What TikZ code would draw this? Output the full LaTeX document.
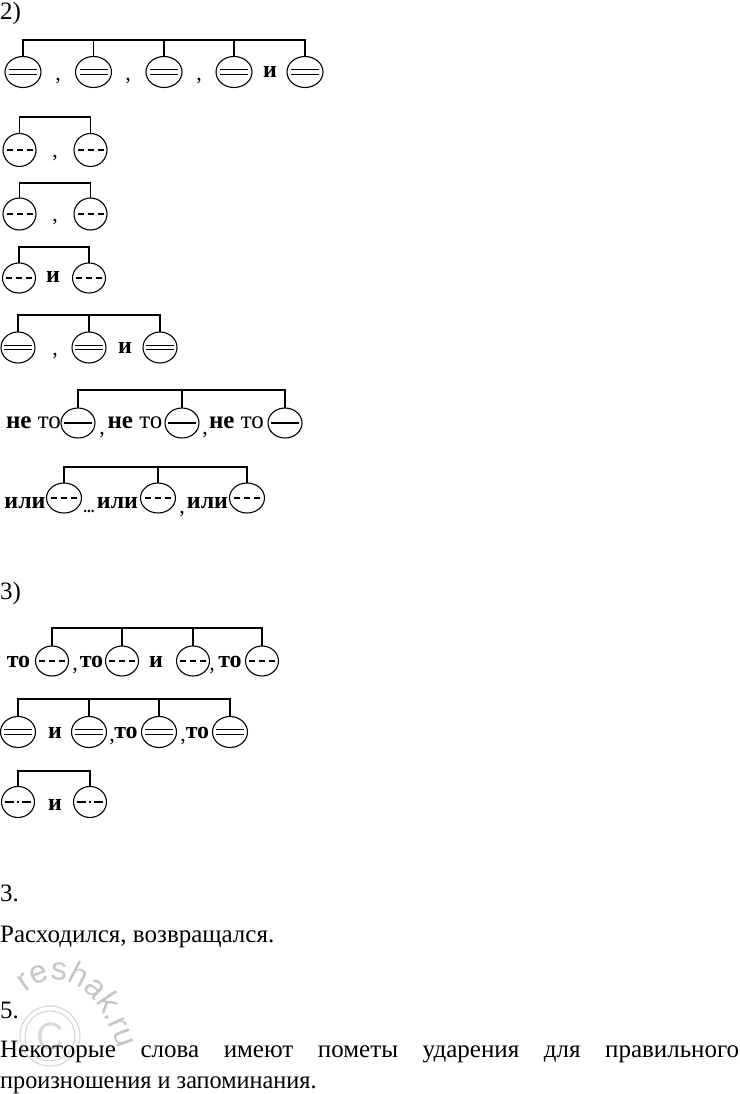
\documentclass[tikz,border=0pt]{standalone}
\usepackage{fontspec}
\setmainfont{Liberation Serif}
\newfontfamily\wmfont{Liberation Sans}
\usetikzlibrary{shapes.geometric,decorations.text}
\tikzset{
  ln/.style={line width=1.1pt},
  el/.style={draw, ellipse, line width=1.1pt, minimum width=#1, inner sep=0pt, outer sep=0pt},
  el/.default=34pt,
  dbl/.style={path picture={\draw[line width=1.2pt]
     ([xshift=-14pt,yshift=2.2pt]path picture bounding box.center) -- ([xshift=14pt,yshift=2.2pt]path picture bounding box.center)
     ([xshift=-14pt,yshift=-2.2pt]path picture bounding box.center) -- ([xshift=14pt,yshift=-2.2pt]path picture bounding box.center);}},
  dsh/.style={path picture={\draw[line width=1.2pt, dash pattern=on 6pt off 4pt]
     ([xshift=-13pt]path picture bounding box.center) -- ([xshift=13pt]path picture bounding box.center);}},
  sgl/.style={path picture={\draw[line width=1.2pt]
     ([xshift=-14pt]path picture bounding box.center) -- ([xshift=14pt]path picture bounding box.center);}},
  ddt/.style={path picture={\draw[line width=1.2pt, dash pattern=on 9pt off 3pt on 2pt off 3pt]
     ([xshift=-13pt]path picture bounding box.center) -- ([xshift=13pt]path picture bounding box.center);}},
  lbl/.style={font=\fontsize{24}{24}\selectfont\bfseries, inner sep=0pt, anchor=base},
  cmma/.style={font=\fontsize{22}{22}\selectfont, inner sep=0pt, anchor=base},
  txt/.style={font=\fontsize{25}{25}\selectfont, inner sep=0pt, anchor=base west},
}
\begin{document}
\begin{tikzpicture}[x=1pt,y=-1pt]
\useasboundingbox (0,0) rectangle (739,1094);
\fill[white] (0,0) rectangle (739,1094);

% ---------- 2)
\node[txt] (h2) at (0,20) {2)};

% Row 1
\coordinate (r1) at (0,40);
\foreach \i/\x in {1/23,2/93.5,3/164,4/234,5/305}
  \node[el=36pt, minimum height=31pt, dbl] (a\i) at (\x,72) {};
\draw[ln] (a1.north) -- (a1.north |- r1) -- (a5.north |- r1) -- (a5.north);
\foreach \i in {2,3,4} \draw[ln] (a\i.north) -- (a\i.north |- r1);
\node[cmma] (a1c) at (58,81) {,};
\node[cmma] (a2c) at (128,81) {,};
\node[cmma] (a3c) at (199,81) {,};
\node[lbl] (a4i) at (270,78) {и};

% Row 2
\coordinate (r2) at (0,117);
\node[el=33pt, minimum height=33pt, dsh] (b1) at (19.5,150) {};
\node[el=33pt, minimum height=33pt, dsh] (b2) at (90.5,150) {};
\draw[ln] (b1.north) -- (b1.north |- r2) -- (b2.north |- r2) -- (b2.north);
\node[cmma] (b1c) at (55,158) {,};

% Row 3
\coordinate (r3) at (0,183);
\node[el=33pt, minimum height=32pt, dsh] (c1) at (19.5,214) {};
\node[el=33pt, minimum height=32pt, dsh] (c2) at (90.5,214) {};
\draw[ln] (c1.north) -- (c1.north |- r3) -- (c2.north |- r3) -- (c2.north);
\node[cmma] (c1c) at (55,222) {,};

% Row 4
\coordinate (r4) at (0,247);
\node[el=33pt, minimum height=30pt, dsh] (d1) at (19,278) {};
\node[el=33pt, minimum height=30pt, dsh] (d2) at (89,278) {};
\draw[ln] (d1.north) -- (d1.north |- r4) -- (d2.north |- r4) -- (d2.north);
\node[lbl] (d1i) at (53,282) {и};

% Row 5
\coordinate (r5) at (0,315);
\foreach \i/\x in {1/18,2/89,3/160}
  \node[el=34pt, minimum height=31pt, dbl] (e\i) at (\x,347.5) {};
\draw[ln] (e1.north) -- (e1.north |- r5) -- (e3.north |- r5) -- (e3.north);
\draw[ln] (e2.north) -- (e2.north |- r5);
\node[cmma] (e1c) at (55,355) {,};
\node[lbl] (e2i) at (125,353) {и};

% Row 6
\coordinate (r6) at (0,390);
\foreach \i/\x in {1/78,2/182,3/285}
  \node[el=34pt, minimum height=30pt, sgl] (f\i) at (\x,423) {};
\draw[ln] (f1.north) -- (f1.north |- r6) -- (f3.north |- r6) -- (f3.north);
\draw[ln] (f2.north) -- (f2.north |- r6);
\node[lbl, font=\fontsize{25}{25}\selectfont\bfseries] (f1t) at (33.5,428) {не \mdseries то};
\node[lbl, font=\fontsize{25}{25}\selectfont\bfseries] (f2t) at (135,428) {не \mdseries то};
\node[lbl, font=\fontsize{25}{25}\selectfont\bfseries] (f3t) at (236.5,428) {не \mdseries то};
\node[cmma] (f1c) at (102,434) {,};
\node[cmma] (f2c) at (205,434) {,};

% Row 7
\coordinate (r7) at (0,467);
\foreach \i/\x in {1/64,2/158,3/247}
  \node[el=35pt, minimum height=30pt, dsh] (g\i) at (\x,498) {};
\draw[ln] (g1.north) -- (g1.north |- r7) -- (g3.north |- r7) -- (g3.north);
\draw[ln] (g2.north) -- (g2.north |- r7);
\node[lbl] (g1t) at (25,508) {или};
\node[lbl] (g2t) at (117.5,508) {или};
\node[lbl] (g3t) at (207.5,508) {или};
\node[lbl, font=\fontsize{15}{15}\selectfont\bfseries] (g1d) at (89,512) {...};
\node[cmma] (g2c) at (182,513) {,};

% ---------- 3)
\node[txt] (h3) at (0,599) {3)};

% Row 8
\coordinate (r8) at (0,628);
\foreach \i/\x in {1/52,2/122,3/193,4/262}
  \node[el=33pt, minimum height=30pt, dsh] (h\i) at (\x,661) {};
\draw[ln] (h1.north) -- (h1.north |- r8) -- (h4.north |- r8) -- (h4.north);
\foreach \i in {2,3} \draw[ln] (h\i.north) -- (h\i.north |- r8);
\node[lbl] (h1t) at (18.5,667) {то};
\node[cmma] (h1c) at (75,670) {,};
\node[lbl] (h2t) at (91.5,667) {то};
\node[lbl] (h2i) at (156,667) {и};
\node[cmma] (h3c) at (212,670) {,};
\node[lbl] (h4t) at (230,667) {то};

% Row 9
\coordinate (r9) at (0,699);
\foreach \i/\x in {1/18,2/89,3/159,4/230}
  \node[el=35pt, minimum height=31pt, dbl] (i\i) at (\x,732) {};
\draw[ln] (i1.north) -- (i1.north |- r9) -- (i4.north |- r9) -- (i4.north);
\foreach \i in {2,3} \draw[ln] (i\i.north) -- (i\i.north |- r9);
\node[lbl] (i1i) at (55,738) {и};
\node[cmma] (i2c) at (112,741) {,};
\node[lbl] (i2t) at (126,738) {то};
\node[cmma] (i3c) at (183,741) {,};
\node[lbl] (i3t) at (197.5,738) {то};

% Row 10
\coordinate (r10) at (0,771);
\node[el=33pt, minimum height=31pt, ddt] (j1) at (18,802) {};
\node[el=33pt, minimum height=31pt, ddt] (j2) at (90,802) {};
\draw[ln] (j1.north) -- (j1.north |- r10) -- (j2.north |- r10) -- (j2.north);
\node[lbl] (j1i) at (55,810) {и};

% ---------- text
\node[txt] (t3) at (0,901) {3.};
\node[txt] (t3a) at (0,942) {Расходился, возвращался.};
\node[txt] (t5) at (0,1018) {5.};

% watermark
\draw[gray!35, line width=1pt] (50,1036) circle (30);
\draw[gray!35, line width=1pt] (50,1036) circle (25);
\node[font=\wmfont\fontsize{38}{38}\selectfont, text=gray!30, inner sep=0pt] (wmc) at (50,1036) {C};
\path[decorate, decoration={text along path, text align=center,
   text={|\wmfont\fontsize{32}{32}\selectfont\color{gray!45}|reshak.ru}}]
   (16,1002) .. controls (50,962) and (98,972) .. (122,1062);

\node[txt] (t5a) at (0,1057) {\makebox[739pt][s]{Некоторые слова имеют пометы ударения для правильного}};
\node[txt] (t5b) at (0,1088) {\scalebox{0.97}[1]{произношения и запоминания.}};
\end{tikzpicture}
\end{document}
